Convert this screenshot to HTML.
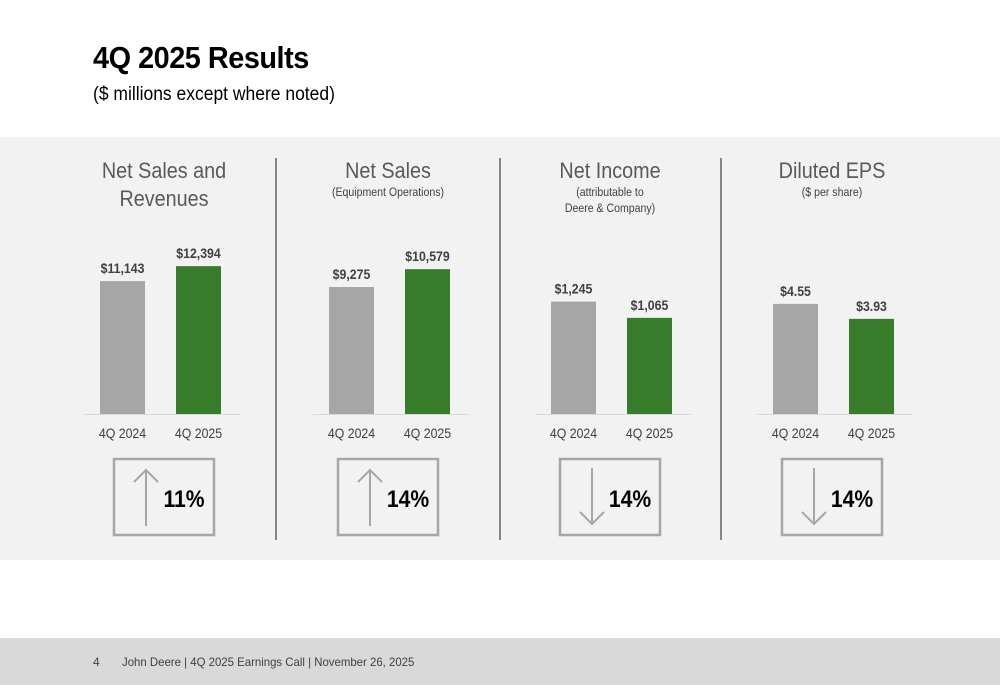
<!DOCTYPE html>
<html><head><meta charset="utf-8"><style>
body{margin:0;width:1000px;height:685px;background:#fff;font-family:"Liberation Sans",Arial,sans-serif;position:relative;overflow:hidden}
#title{position:absolute;left:93px;top:40px;font-size:31px;font-weight:bold;color:#000;letter-spacing:-0.5px;transform:scaleX(0.93);transform-origin:left}
#sub{position:absolute;left:93px;top:84px;font-size:19px;color:#000;transform:scaleX(0.92);transform-origin:left}
#panel{position:absolute;left:0;top:137px;width:1000px;height:423px;background:#f2f2f2}
#footer{position:absolute;left:0;top:638px;width:1000px;height:47px;background:#d9d9d9;font-size:12px;color:#404040}
#ft{position:absolute;left:122px;top:17px;transform:scaleX(0.95);transform-origin:left;white-space:nowrap}
</style></head><body>
<div id="title">4Q 2025 Results</div>
<div id="sub">($ millions except where noted)</div>
<div id="panel"></div>
<svg id="chart" width="1000" height="685" style="position:absolute;left:0;top:0"></svg>
<div id="footer"><span style="position:absolute;left:93px;top:17px">4</span><span id="ft">John Deere | 4Q 2025 Earnings Call | November 26, 2025</span></div>
<script>
const categories=["4Q 2024","4Q 2025"];
const titles=[["Net Sales and","Revenues"],["Net Sales"],["Net Income"],["Diluted EPS"]];
const subtitles=[[],["(Equipment Operations)"],["(attributable to","Deere & Company)"],["($ per share)"]];
const v2024=[11143,9275,1245,4.55];
const v2025=[12394,10579,1065,3.93];
const labels2024=["$11,143","$9,275","$1,245","$4.55"];
const labels2025=["$12,394","$10,579","$1,065","$3.93"];
const changes=["11%","14%","14%","14%"];
const directions=["up","up","down","down"];
const scaleMax=[14000,12200,1850,6.9];
const centers=[164,388,610,832];
const barOffset=[-64,-59,-59,-59];
const svg=document.getElementById('chart');
const NS="http://www.w3.org/2000/svg";
function mk(t,a,txt){const e=document.createElementNS(NS,t);for(const k in a)e.setAttribute(k,a[k]);if(txt!==undefined)e.textContent=txt;svg.appendChild(e);return e;}
function tx(x,yy,sx,a,txt){a.transform=`translate(${x},${yy}) scale(${sx},1)`;a.x=0;a.y=0;return mk('text',a,txt);}
const base=414, plotH=167;
function y(v,i){return base-v/scaleMax[i]*plotH;}
[276,500,721].forEach(x=>{const l=mk('line',{x1:x,y1:158,x2:x,y2:540,stroke:'#404040','stroke-width':1.2});

});
for(let i=0;i<4;i++){
 const c=centers[i];
 titles[i].forEach((t,j)=>{const e=tx(c,178+j*28,0.9,{'text-anchor':'middle','font-size':22,fill:'#595959'},t);
 
 });
 subtitles[i].forEach((t,j)=>{const e=tx(c,196+j*16,0.88,{'text-anchor':'middle','font-size':12,fill:'#404040'},t);
 
 });
 const b0=c+barOffset[i];
 const bl=mk('line',{x1:b0-16,y1:base+0.5,x2:b0+140,y2:base+0.5,stroke:'#d9d9d9','stroke-width':1});
 
 
 const vals=[v2024[i],v2025[i]], labs=[labels2024[i],labels2025[i]], cols=['#a6a6a6','#367c2b'];
 for(let k=0;k<2;k++){
  const bx=b0+k*76, yt=y(vals[k],i);
  const r=mk('rect',{x:bx,y:yt,width:45,height:base-yt,fill:cols[k]});
  
  
  const t=tx(bx+22.5,yt-8,0.88,{'text-anchor':'middle','font-size':14,'font-weight':'bold',fill:'#404040'},labs[k]);
  
  
  const cl=tx(bx+22.5,438,0.88,{'text-anchor':'middle','font-size':14,fill:'#404040'},categories[k]);
  
  
 }
 const bx=c-50;
 const box=mk('rect',{x:bx,y:459,width:100,height:76,fill:'none',stroke:'#a6a6a6','stroke-width':2.5});
 
 
 const ax=bx+32;
 const ar=mk('path',{d:directions[i]=='up'?`M${ax} 526 L${ax} 470 M${ax-12} 482 L${ax} 470 L${ax+12} 482`:`M${ax} 468 L${ax} 524 M${ax-12} 512 L${ax} 524 L${ax+12} 512`,stroke:'#a6a6a6','stroke-width':2,fill:'none'});
 
 
 const pt=tx(bx+70,507,0.88,{'text-anchor':'middle','font-size':24,'font-weight':'bold',fill:'#000'},changes[i]);
 
 
}
</script>
</body></html>
